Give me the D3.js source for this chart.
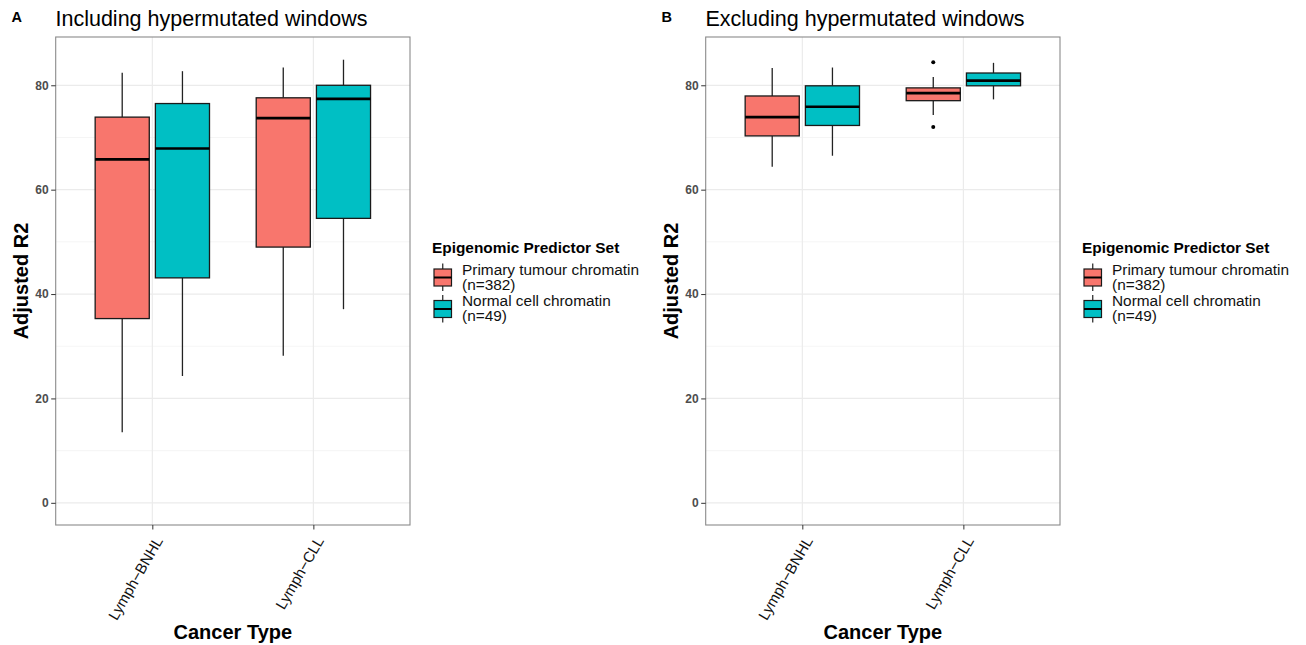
<!DOCTYPE html>
<html>
<head>
<meta charset="utf-8">
<script src="https://cdn.jsdelivr.net/npm/d3@7"></script>
<style>
  html, body { margin: 0; padding: 0; background: #fff; }
  svg { display: block; font-family: "Liberation Sans", Arial, Helvetica, sans-serif; }
</style>
</head>
<body>
<svg id="chart" width="1306" height="645"></svg>
<script>
// ---- data ----
const categories = ["Lymph\u2212BNHL", "Lymph\u2212CLL"];
const groups = ["Primary tumour chromatin", "Normal cell chromatin"];
const groupN = ["(n=382)", "(n=49)"];
const groupColors = ["#F8766D", "#00BFC4"];
const yTicks = [0, 20, 40, 60, 80];
const yMinor = [10, 30, 50, 70];
const panelTitles = ["Including hypermutated windows", "Excluding hypermutated windows"];
const panelTags = ["A", "B"];

// box statistics: [category, group, lowerWhisker, q1, median, q3, upperWhisker]
const includingStats = [
  [0, 0, 13.5, 35.3, 65.8, 73.9, 82.4],
  [0, 1, 24.3, 43.1, 67.9, 76.5, 82.7],
  [1, 0, 28.2, 49.0, 73.7, 77.6, 83.4],
  [1, 1, 37.1, 54.5, 77.4, 80.0, 84.9]
];
const includingOutliers = [];
const excludingStats = [
  [0, 0, 64.4, 70.3, 73.9, 77.95, 83.3],
  [0, 1, 66.5, 72.3, 75.9, 79.9, 83.4],
  [1, 0, 74.3, 77.05, 78.5, 79.5, 81.6],
  [1, 1, 77.3, 79.9, 80.9, 82.35, 84.3]
];
// outliers: [category, group, value]
const excludingOutliers = [
  [1, 0, 84.4],
  [1, 0, 72.0]
];

// ---- drawing ----
const svg = d3.select("#chart");
const FONT = '"Liberation Sans", Arial, Helvetica, sans-serif';

function drawPanel(ox, idx, stats, outliers) {
  const g = svg.append("g").attr("transform", `translate(${ox},0)`);
  const left = 55.7, right = 410, top = 37, bottom = 525;

  const y = d3.scaleLinear().domain([-4.25, 89.25]).range([bottom, top]);
  const x = d3.scaleLinear().domain([0.4, 2.6]).range([left, right]);
  const dodge = 0.187, halfW = 0.168;

  // panel background + grid
  g.append("rect").attr("x", left).attr("y", top).attr("width", right - left).attr("height", bottom - top).attr("fill", "#fff");
  g.selectAll(".minor").data(yMinor).enter().append("line")
    .attr("x1", left).attr("x2", right).attr("y1", d => y(d)).attr("y2", d => y(d))
    .attr("stroke", "#F2F2F2").attr("stroke-width", 0.8);
  g.selectAll(".major").data(yTicks).enter().append("line")
    .attr("x1", left).attr("x2", right).attr("y1", d => y(d)).attr("y2", d => y(d))
    .attr("stroke", "#EBEBEB").attr("stroke-width", 1.2);
  g.selectAll(".vmajor").data([1, 2]).enter().append("line")
    .attr("y1", top).attr("y2", bottom).attr("x1", d => x(d)).attr("x2", d => x(d))
    .attr("stroke", "#EBEBEB").attr("stroke-width", 1.2);

  // boxes
  const boxes = g.selectAll(".box").data(stats).enter().append("g");
  boxes.each(function(d) {
    const b = d3.select(this);
    const pos = d[0] + 1 + (d[1] === 0 ? -dodge : dodge);
    const cx = x(pos), x0 = x(pos - halfW), x1 = x(pos + halfW);
    b.append("line").attr("x1", cx).attr("x2", cx).attr("y1", y(d[6])).attr("y2", y(d[5]))
      .attr("stroke", "#222").attr("stroke-width", 1.3);
    b.append("line").attr("x1", cx).attr("x2", cx).attr("y1", y(d[3])).attr("y2", y(d[2]))
      .attr("stroke", "#222").attr("stroke-width", 1.3);
    b.append("rect").attr("x", x0).attr("width", x1 - x0)
      .attr("y", y(d[5])).attr("height", y(d[3]) - y(d[5]))
      .attr("fill", groupColors[d[1]]).attr("stroke", "#1a1a1a").attr("stroke-width", 1.3);
    b.append("line").attr("x1", x0).attr("x2", x1).attr("y1", y(d[4])).attr("y2", y(d[4]))
      .attr("stroke", "#000").attr("stroke-width", 2.6);
  });
  g.selectAll(".out").data(outliers).enter().append("circle")
    .attr("cx", d => x(d[0] + 1 + (d[1] === 0 ? -dodge : dodge)))
    .attr("cy", d => y(d[2])).attr("r", 2).attr("fill", "#000");

  // border
  g.append("rect").attr("x", left).attr("y", top).attr("width", right - left).attr("height", bottom - top)
    .attr("fill", "none").attr("stroke", "#8a8a8a").attr("stroke-width", 1.1);

  // y axis
  const ya = g.append("g").attr("transform", `translate(${left},0)`)
    .call(d3.axisLeft(y).tickValues(yTicks).tickSize(4.5).tickPadding(2.5).tickFormat(d3.format("d")));
  ya.select(".domain").remove();
  ya.selectAll(".tick line").attr("stroke", "#333");
  ya.selectAll(".tick text").attr("fill", "#4D4D4D").attr("font-size", "12px").attr("font-weight", "bold").attr("font-family", FONT);

  // x axis
  const xa = g.append("g").attr("transform", `translate(0,${bottom})`)
    .call(d3.axisBottom(x).tickValues([1, 2]).tickSize(4.5).tickFormat(d => categories[d - 1]));
  xa.select(".domain").remove();
  xa.selectAll(".tick line").attr("stroke", "#333");
  xa.selectAll(".tick text")
    .attr("fill", "#111").attr("font-size", "15px").attr("font-family", FONT)
    .attr("text-anchor", "end").attr("y", 0).attr("dy", 0)
    .attr("transform", "translate(1,10) rotate(-60) translate(0,11)");

  // axis titles
  g.append("text").attr("x", (left + right) / 2).attr("y", 638.5).attr("text-anchor", "middle")
    .attr("font-size", "20px").attr("font-weight", "bold").attr("fill", "#000").text("Cancer Type");
  g.append("text").attr("transform", `translate(28,${(top + bottom) / 2}) rotate(-90)`).attr("text-anchor", "middle")
    .attr("font-size", "20px").attr("font-weight", "bold").attr("fill", "#000").text("Adjusted R2");

  // title + tag
  g.append("text").attr("x", 55.5).attr("y", 25.5).attr("font-size", "21.5px").attr("fill", "#000").text(panelTitles[idx]);
  g.append("text").attr("x", 11.5).attr("y", 22).attr("font-size", "14.5px").attr("font-weight", "bold").attr("fill", "#000").text(panelTags[idx]);

  // legend
  const lg = g.append("g");
  lg.append("text").attr("x", 432).attr("y", 252.5).attr("font-size", "15.4px").attr("font-weight", "bold").attr("fill", "#000")
    .text("Epigenomic Predictor Set");
  const keyY = [277.5, 309];
  groups.forEach((name, i) => {
    const cy = keyY[i], kx = 434, kw = 17.5;
    lg.append("line").attr("x1", kx + kw / 2).attr("x2", kx + kw / 2).attr("y1", cy - 14).attr("y2", cy + 13.5)
      .attr("stroke", "#222").attr("stroke-width", 1.2);
    lg.append("rect").attr("x", kx).attr("y", cy - 8.5).attr("width", kw).attr("height", 17)
      .attr("fill", groupColors[i]).attr("stroke", "#1a1a1a").attr("stroke-width", 1.2);
    lg.append("line").attr("x1", kx).attr("x2", kx + kw).attr("y1", cy).attr("y2", cy)
      .attr("stroke", "#000").attr("stroke-width", 2);
    const t = lg.append("text").attr("x", 462).attr("y", cy - 3).attr("font-size", "15.4px").attr("fill", "#111");
    t.append("tspan").attr("x", 462).attr("dy", 0).text(name);
    t.append("tspan").attr("x", 462).attr("dy", 15).text(groupN[i]);
  });
}

drawPanel(0, 0, includingStats, includingOutliers);
drawPanel(650, 1, excludingStats, excludingOutliers);
</script>
</body>
</html>
